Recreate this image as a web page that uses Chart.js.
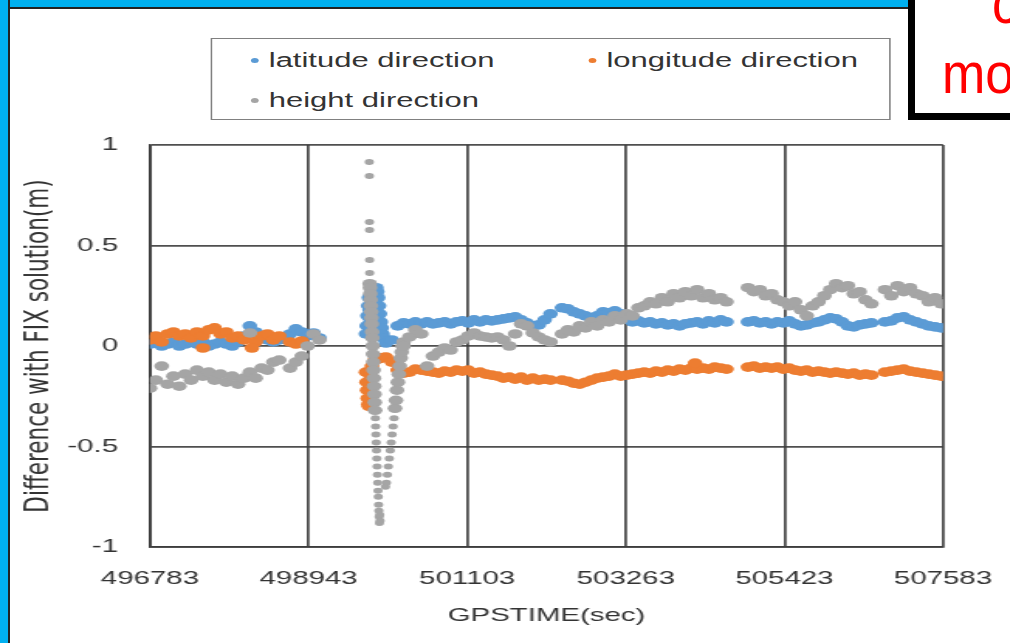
<!DOCTYPE html>
<html>
<head>
<meta charset="utf-8">
<script src="https://cdn.jsdelivr.net/npm/chart.js@4.4.1/dist/chart.umd.min.js"></script>
<style>
  html, body { margin: 0; padding: 0; }
  body { width: 1010px; height: 643px; overflow: hidden; position: relative; background: #fff;
         font-family: "Liberation Sans", Arial, sans-serif; }
  #frameTop { position: absolute; left: 0; top: 0; width: 1010px; height: 7px; background: #00b0f0; border-bottom: 2px solid #222; }
  #frameLeft { position: absolute; left: 0; top: 0; width: 8px; height: 643px; background: #00b0f0; border-right: 2px solid #222; }
  /* the original figure is stretched sideways, so the chart is drawn narrower and scaled */
  #stage { position: absolute; left: 0; top: 0; width: 652px; height: 643px; transform: scaleX(1.549); transform-origin: 0 0; }
  #chartBox { position: absolute; left: 0; top: 0; width: 652px; height: 643px; }
  #legend { position: absolute; left: 135.5px; top: 38px; width: 439px; height: 82px; box-sizing: border-box;
            border: 1.5px solid #808080; background: #fff; }
  .item { position: absolute; height: 24px; line-height: 24px; font-size: 20px; color: #333; white-space: nowrap; }
  .dot { position: absolute; width: 5px; height: 5px; border-radius: 50%; }
  #note { position: absolute; left: 908px; top: -20px; width: 160px; height: 126px; border: 7px solid #000; background: #fff; }
  .red { position: absolute; color: #ff0000; font-family: "Liberation Sans", sans-serif;
         font-size: 52px; line-height: 52px; transform: scaleY(1.12); transform-origin: 0 0; white-space: nowrap; }
</style>
</head>
<body>
<div id="frameTop"></div>
<div id="frameLeft"></div>
<div id="stage">
  <div id="chartBox"><canvas id="chart"></canvas></div>
  <div id="legend"></div>
</div>
<div id="note"></div>
<div class="red" style="left:992px; top:-26px;">c</div>
<div class="red" style="left:942px; top:44px;">mo</div>
<script>
const xMin = 496783;
const xMax = 507583;
const xTicks = [496783, 498943, 501103, 503263, 505423, 507583];
const yTicks = [-1, -0.5, 0, 0.5, 1];
const seriesNames = ['latitude direction', 'longitude direction', 'height direction'];
const seriesColors = ['#5b9bd5', '#ed7d31', '#a5a5a5'];

// runs of samples: [first GPS time (s), sampling step (s), differences (m)]
const latitudeRuns = [
  [496783, 80, [0.01, 0.02, 0.0, 0.01, 0.02, 0.0, 0.01, 0.02, 0.01, 0.02, 0.0, 0.01, 0.02, 0.01, 0.0, 0.02, 0.05, 0.1, 0.07, 0.04, 0.03, 0.02, 0.03]],
  [498690, 80, [0.06, 0.085, 0.07, 0.05, 0.065, 0.04]],
  [499725, 10, [0.06, 0.1, 0.15, 0.2, 0.24, 0.18, 0.12, 0.08, 0.05, 0.1]],
  [499830, 12, [0.2, 0.26, 0.28, 0.29, 0.27, 0.24, 0.2, 0.16, 0.12, 0.09, 0.06, 0.04]],
  [499997, 80, [0.015, 0.03, 0.1, 0.115, 0.11, 0.12, 0.11, 0.12, 0.11, 0.115, 0.12, 0.11, 0.12, 0.125, 0.115, 0.13, 0.12, 0.13, 0.125, 0.13, 0.135, 0.14, 0.145, 0.13, 0.115, 0.1, 0.105, 0.13, 0.16]],
  [502394, 80, [0.19, 0.185, 0.17, 0.16, 0.15, 0.14, 0.15, 0.17, 0.165, 0.175, 0.16, 0.14, 0.12, 0.125, 0.115, 0.12, 0.11, 0.115, 0.105, 0.11, 0.1, 0.11, 0.115, 0.12, 0.11, 0.125, 0.115, 0.13, 0.12]],
  [504927, 80, [0.12, 0.125, 0.115, 0.12, 0.11, 0.12, 0.115, 0.125, 0.11, 0.1, 0.105, 0.115, 0.12, 0.13, 0.14, 0.135, 0.12, 0.1, 0.095, 0.105, 0.11, 0.115]],
  [506793, 85, [0.12, 0.125, 0.14, 0.145, 0.13, 0.12, 0.11, 0.1, 0.095, 0.09]]
];

const longitudeRuns = [
  [496783, 80, [0.03, 0.05, 0.02, 0.06, 0.07, 0.05, 0.06, 0.04, 0.07, 0.05, 0.08, 0.09, 0.06, 0.07, 0.04, 0.05, 0.03, 0.06, 0.02, 0.05, 0.06, 0.03, 0.05]],
  [497505, 80, [-0.01]],
  [498172, 80, [-0.01]],
  [498690, 80, [0.02, 0.01, 0.025]],
  [499725, 8, [-0.13, -0.18, -0.22, -0.26, -0.29, -0.3, -0.27, -0.2, -0.15, -0.12]],
  [499805, 40, [-0.1, -0.07, -0.065, -0.06, -0.058]],
  [499997, 80, [-0.055, -0.08, -0.12, -0.135, -0.13, -0.115, -0.12, -0.125, -0.13, -0.135, -0.125, -0.13, -0.12, -0.125, -0.12, -0.135, -0.13, -0.14, -0.145, -0.15, -0.16, -0.155, -0.165, -0.155, -0.17, -0.16, -0.17, -0.165, -0.17]],
  [502394, 80, [-0.17, -0.175, -0.185, -0.19, -0.18, -0.17, -0.16, -0.155, -0.15, -0.14, -0.15, -0.145, -0.14, -0.135, -0.13, -0.135, -0.125, -0.13, -0.12, -0.125, -0.115, -0.12, -0.11, -0.115, -0.11, -0.115, -0.105, -0.11, -0.115]],
  [504206, 80, [-0.085]],
  [504927, 80, [-0.105, -0.1, -0.11, -0.105, -0.11, -0.105, -0.115, -0.11, -0.12, -0.125, -0.12, -0.13, -0.125, -0.13, -0.135, -0.13, -0.135, -0.14, -0.135, -0.145, -0.14, -0.145]],
  [506793, 85, [-0.13, -0.125, -0.12, -0.115, -0.125, -0.13, -0.135, -0.14, -0.145, -0.15]]
];

const heightRuns = [
  [496783, 80, [-0.21, -0.17, -0.1, -0.19, -0.15, -0.2, -0.14, -0.17, -0.12, -0.15, -0.13, -0.17, -0.14, -0.18, -0.15, -0.19, -0.16, -0.13, -0.16, -0.11, -0.12, -0.08, -0.07]],
  [498145, 80, [0.065]],
  [498690, 80, [-0.11, -0.08, -0.05, 0.0, 0.06, 0.03]],
  [499770, 1, [0.915, 0.846, 0.617, 0.577, 0.428, 0.363]],
  [499776, 4, [0.31, 0.29, 0.26, 0.23, 0.2, 0.17, 0.14, 0.11, 0.07, 0.04, 0.0, -0.04, -0.08, -0.12, -0.16, -0.2, -0.24, -0.28, -0.32, -0.36, -0.4, -0.44, -0.48, -0.52, -0.56, -0.6, -0.64, -0.68, -0.72, -0.75, -0.79, -0.82, -0.85, -0.88, -0.84, -0.87]],
  [499990, 13, [-0.7, -0.68, -0.64, -0.6, -0.56, -0.52, -0.48, -0.44, -0.4, -0.36, -0.31, -0.27, -0.22, -0.18, -0.14, -0.1, -0.06, -0.03, 0.0, 0.02]],
  [500237, 80, [0.0, 0.045, 0.08, 0.06, -0.1, -0.05, -0.03, -0.01, -0.02, 0.02, 0.03, 0.05, 0.065, 0.05, 0.045, 0.04, 0.045, 0.03, 0.0, 0.06, 0.11, 0.1, 0.065, 0.045, 0.03, 0.02]],
  [502394, 80, [0.06, 0.08, 0.07, 0.1, 0.09, 0.12, 0.1, 0.13, 0.12, 0.15, 0.13, 0.16, 0.15, 0.19, 0.2, 0.22, 0.21, 0.24, 0.22, 0.26, 0.24, 0.27, 0.25, 0.28, 0.24, 0.26, 0.23, 0.24, 0.22]],
  [504927, 80, [0.29, 0.27, 0.28, 0.25, 0.26, 0.23, 0.22, 0.2, 0.22, 0.18, 0.15, 0.2, 0.22, 0.25, 0.28, 0.31, 0.29, 0.3, 0.26, 0.27, 0.23, 0.21]],
  [506793, 85, [0.28, 0.25, 0.3, 0.27, 0.29, 0.26, 0.25, 0.22, 0.24, 0.21]]
];

function toPoints(runs) {
  const pts = [];
  runs.forEach(([t0, step, vals]) => {
    vals.forEach((v, i) => pts.push({ x: t0 + i * step, y: v }));
  });
  return pts;
}

// legend drawn as html so it can sit in its framed box
const legendPos = [[0, 0], [218, 0], [0, 40]];
const legend = document.getElementById('legend');
seriesNames.forEach((name, i) => {
  const dot = document.createElement('div');
  dot.className = 'dot';
  dot.style.background = seriesColors[i];
  dot.style.left = (25 + legendPos[i][0]) + 'px';
  dot.style.top = (19 + legendPos[i][1]) + 'px';
  legend.appendChild(dot);
  const txt = document.createElement('div');
  txt.className = 'item';
  txt.textContent = name;
  txt.style.left = (37 + legendPos[i][0]) + 'px';
  txt.style.top = (9 + legendPos[i][1]) + 'px';
  legend.appendChild(txt);
});

const gridColor = 'rgba(60,60,60,0.9)';
const textColor = '#333';
const allRuns = [latitudeRuns, longitudeRuns, heightRuns];

new Chart(document.getElementById('chart'), {
  type: 'scatter',
  data: {
    datasets: allRuns.map((runs, i) => ({
      label: seriesNames[i],
      data: toPoints(runs),
      backgroundColor: seriesColors[i],
      borderWidth: 0,
      // the far-off spike samples are isolated dots, the rest merge into bands
      pointRadius: ctx => (Math.abs(ctx.raw.y) > 0.35 ? 3 : 4.8),
      order: 3 - i
    }))
  },
  options: {
    responsive: true,
    maintainAspectRatio: false,
    animation: false,
    layout: { padding: { top: 145, right: 43.2, bottom: 0, left: 0 } },
    plugins: { legend: { display: false }, tooltip: { enabled: false } },
    scales: {
      x: {
        type: 'linear',
        min: xMin,
        max: xMax,
        afterBuildTicks: s => { s.ticks = xTicks.map(v => ({ value: v })); },
        afterFit: s => { s.height = 96; s.paddingLeft = 0; s.paddingRight = 0; },
        ticks: { callback: v => String(v), color: textColor, font: { family: 'Liberation Sans', size: 19 },
                 padding: 20, maxRotation: 0, autoSkip: false },
        grid: { color: gridColor, lineWidth: 1.8, drawTicks: false },
        border: { color: gridColor, width: 1.8 },
        title: { display: true, text: 'GPSTIME(sec)', color: textColor,
                 font: { family: 'Liberation Sans', size: 19 }, padding: { top: 0, bottom: 16 } }
      },
      y: {
        min: -1,
        max: 1,
        afterBuildTicks: s => { s.ticks = yTicks.map(v => ({ value: v })); },
        afterFit: s => { s.width = 96.8; },
        ticks: { callback: v => String(v), color: textColor, font: { family: 'Liberation Sans', size: 19 }, padding: 20.6 },
        grid: { color: gridColor, lineWidth: 1.8, drawTicks: false },
        border: { color: gridColor, width: 1.8 },
        title: { display: true, text: 'Difference with FIX solution(m)', color: textColor,
                 font: { family: 'DejaVu Sans', size: 21.5 }, padding: { top: 12.9, bottom: 0 } }
      }
    }
  }
});
</script>
</body>
</html>
